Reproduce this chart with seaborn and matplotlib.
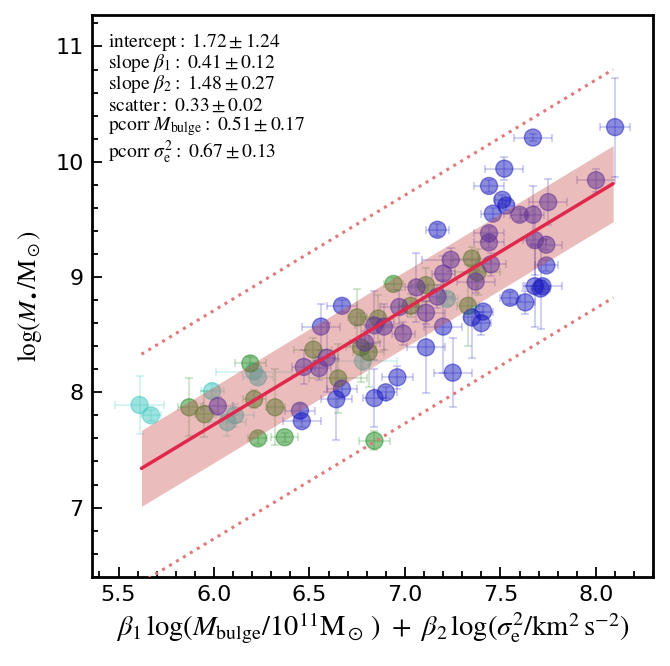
import numpy as np
import pandas as pd
import matplotlib
matplotlib.use("Agg")
import matplotlib.pyplot as plt
from matplotlib.ticker import MultipleLocator
import seaborn as sns

# ---------------- data ----------------
cyan_x = [5.61, 5.67, 5.99, 6.11, 6.07, 6.21, 6.23, 7.22, 6.78]
cyan_y = [7.89, 7.80, 8.01, 7.80, 7.74, 8.18, 8.13, 8.81, 8.27]
cyan_xerr = [0.13, 0.05, 0.06, 0.10, 0.10, 0.20, 0.08, 0.06, 0.18]
cyan_yerr = [0.25, 0.05, 0.06, 0.10, 0.12, 0.06, 0.06, 0.05, 0.08]

green_x = [5.87, 5.95, 6.19, 6.21, 6.32, 6.23, 6.37, 6.52, 6.65, 6.75,
           6.86, 6.77, 6.81, 6.84, 6.94, 7.11, 7.03, 7.33, 7.35, 7.38]
green_y = [7.87, 7.81, 8.25, 7.94, 7.87, 7.60, 7.61, 8.37, 8.12, 8.65,
           8.64, 8.39, 8.35, 7.58, 8.94, 8.93, 8.75, 8.75, 9.16, 9.04]
green_xerr = [0.06, 0.05, 0.08, 0.06, 0.05, 0.05, 0.07, 0.10, 0.15, 0.05,
              0.08, 0.08, 0.08, 0.08, 0.05, 0.08, 0.06, 0.06, 0.10, 0.12]
green_yerr = [0.25, 0.20, 0.06, 0.08, 0.33, 0.05, 0.04, 0.10, 0.30, 0.25,
              0.20, 0.30, 0.30, 0.08, 0.05, 0.15, 0.10, 0.35, 0.10, 0.20]

blue_x = [6.02, 6.45, 6.46, 6.47, 6.55, 6.59, 6.56, 6.67, 6.67, 6.64,
          6.84, 6.90, 6.96, 6.84, 6.89, 6.79, 6.97, 6.99, 7.06, 7.11,
          7.11, 7.17, 7.20, 7.24, 7.20, 7.25, 7.17, 7.37, 7.44, 7.44,
          7.45, 7.44, 7.52, 7.67, 8.10, 8.00, 7.75, 7.60, 7.67, 7.51,
          7.53, 7.46, 7.68, 7.74, 7.74, 7.68, 7.72, 7.71, 7.55, 7.63,
          7.41, 7.35, 7.40]
blue_y = [7.88, 7.84, 7.75, 8.22, 8.21, 8.30, 8.57, 8.75, 8.03, 7.94,
          7.95, 8.00, 8.13, 8.58, 8.57, 8.43, 8.74, 8.51, 8.91, 8.39,
          8.69, 8.83, 9.03, 9.15, 8.57, 8.17, 9.41, 8.96, 9.38, 9.30,
          9.11, 9.79, 9.94, 10.21, 10.30, 9.84, 9.65, 9.54, 9.54, 9.67,
          9.62, 9.55, 9.32, 9.28, 9.10, 8.92, 8.92, 8.90, 8.82, 8.78,
          8.70, 8.65, 8.60]
blue_xerr = [0.08, 0.08, 0.10, 0.06, 0.06, 0.06, 0.10, 0.08, 0.08, 0.08,
             0.06, 0.06, 0.08, 0.10, 0.10, 0.08, 0.10, 0.06, 0.06, 0.10,
             0.10, 0.08, 0.06, 0.15, 0.10, 0.10, 0.06, 0.10, 0.08, 0.08,
             0.08, 0.08, 0.10, 0.10, 0.08, 0.10, 0.10, 0.05, 0.06, 0.04,
             0.04, 0.06, 0.06, 0.08, 0.06, 0.05, 0.10, 0.05, 0.05, 0.05,
             0.05, 0.04, 0.05]
blue_yerr = [0.08, 0.06, 0.05, 0.15, 0.10, 0.30, 0.20, 0.05, 0.08, 0.35,
             0.25, 0.05, 0.10, 0.30, 0.20, 0.10, 0.15, 0.10, 0.30, 0.40,
             0.10, 0.10, 0.15, 0.10, 0.40, 0.30, 0.05, 0.10, 0.05, 0.05,
             0.10, 0.05, 0.10, 0.03, 0.43, 0.10, 0.20, 0.05, 0.25, 0.04,
             0.04, 0.05, 0.30, 0.05, 0.05, 0.35, 0.05, 0.35, 0.05, 0.10,
             0.05, 0.35, 0.10]

intercept = 1.72
scatter = 0.33
fit_x = [5.62, 8.09]

fit_text = [
    r"$\mathrm{intercept:}\ 1.72 \pm 1.24$",
    r"$\mathrm{slope}\ \beta_1\mathrm{:}\ 0.41 \pm 0.12$",
    r"$\mathrm{slope}\ \beta_2\mathrm{:}\ 1.48 \pm 0.27$",
    r"$\mathrm{scatter:}\ 0.33 \pm 0.02$",
    r"$\mathrm{pcorr}\ M_\mathrm{bulge}\mathrm{:}\ 0.51 \pm 0.17$",
    r"$\mathrm{pcorr}\ \sigma_\mathrm{e}^2\mathrm{:}\ 0.67 \pm 0.13$",
]

# ---------------- frame ----------------
groups = {
    "cyan": (cyan_x, cyan_y, cyan_xerr, cyan_yerr),
    "green": (green_x, green_y, green_xerr, green_yerr),
    "blue": (blue_x, blue_y, blue_xerr, blue_yerr),
}
rows = []
for g, (xs, ys, xe, ye) in groups.items():
    for a, b, c, d in zip(xs, ys, xe, ye):
        rows.append(dict(group=g, x=a, y=b, xerr=c, yerr=d))
df = pd.DataFrame(rows)

palette = {"cyan": "#3cc8c0", "green": "#1e8a1e", "blue": "#1a1ac0"}

sns.set_style("white")
plt.rcParams["mathtext.fontset"] = "stix"
plt.rcParams["font.family"] = ["DejaVu Sans"]

fig = plt.figure(figsize=(6.70, 6.66), dpi=100)
ax = fig.add_axes([0.137, 0.134, 0.838, 0.843])

fx = np.array(fit_x)
fy = intercept + fx

for g, sub in df.groupby("group"):
    ax.errorbar(sub["x"], sub["y"], xerr=sub["xerr"], yerr=sub["yerr"],
                fmt="none", ecolor=palette[g], alpha=0.2, capsize=3,
                elinewidth=1.5, capthick=1.5, zorder=2)

sns.scatterplot(data=df, x="x", y="y", hue="group", palette=palette,
                s=150, alpha=0.5, edgecolor=None, linewidth=0,
                legend=False, ax=ax, zorder=3)
for coll in ax.collections[-1:]:
    coll.set_edgecolors([palette[g] for g in df["group"]])
    coll.set_linewidth(1.0)

ax.fill_between(fx, fy - scatter, fy + scatter, color="#c9504f", alpha=0.38,
                lw=0, zorder=4)
ax.plot(fx, fy + 3 * scatter, ls=":", color="#e07a7a", lw=2.2, zorder=4)
ax.plot(fx, fy - 3 * scatter, ls=":", color="#e07a7a", lw=2.2, zorder=4)
ax.plot(fx, fy, color="#e0284c", lw=2.5, zorder=5)

ax.set_xlim(5.36, 8.30)
ax.set_ylim(6.40, 11.27)
ax.xaxis.set_major_locator(MultipleLocator(0.5))
ax.xaxis.set_minor_locator(MultipleLocator(0.1))
ax.yaxis.set_major_locator(MultipleLocator(1))
ax.yaxis.set_minor_locator(MultipleLocator(0.2))
ax.tick_params(which="both", direction="in", bottom=True, left=True,
               top=False, right=False, labelsize=16, width=1.3,
               color="black", labelcolor="black")
ax.tick_params(which="major", length=7, pad=6)
ax.tick_params(which="minor", length=4)
for sp in ax.spines.values():
    sp.set_linewidth(2)
    sp.set_color("black")

ax.set_xlabel(r"$\beta_1\,\log(M_\mathrm{bulge}/10^{11}\mathrm{M}_\odot\,)\ +\ \beta_2\,\log(\sigma_\mathrm{e}^2/\mathrm{km}^2\,\mathrm{s}^{-2})$",
              fontsize=20.5, labelpad=4, color="black")
ax.set_ylabel(r"$\log(M_\bullet/\mathrm{M}_\odot)$", fontsize=18,
              labelpad=8, color="black")

line_px = [42, 63, 84, 105, 126, 152]
for t, py in zip(fit_text, line_px):
    ax.text(0.028, (577 - py) / 562.0, t, transform=ax.transAxes,
            va="center", ha="left", fontsize=14, color="black")

fig.savefig("out.png", dpi=100)
